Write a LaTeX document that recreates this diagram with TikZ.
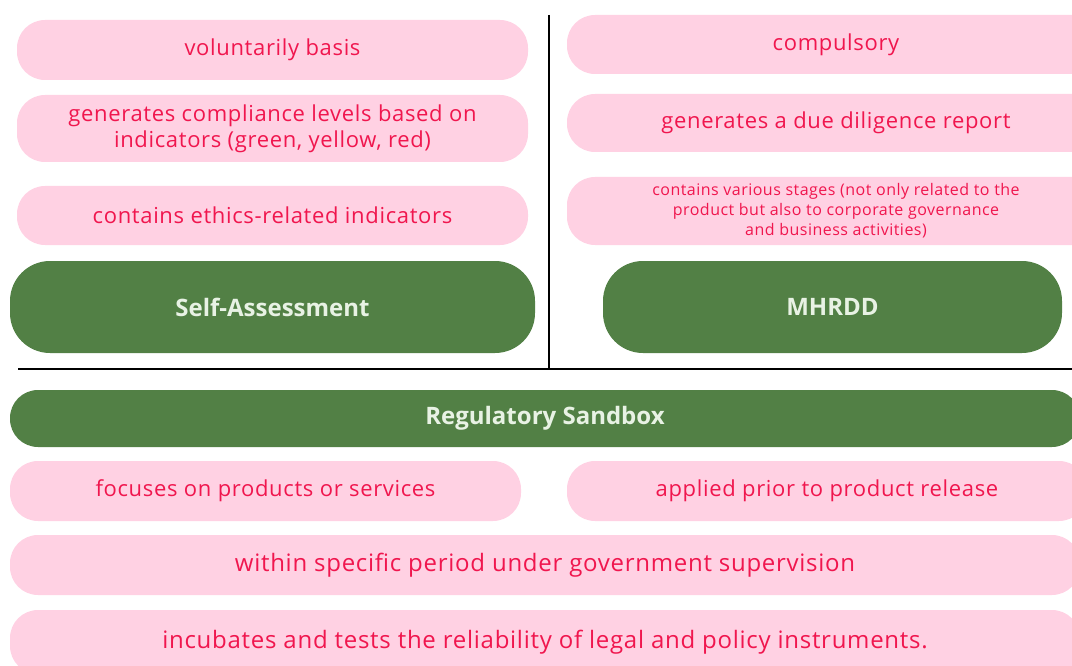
\documentclass[tikz,border=0pt]{standalone}
\usepackage{fontspec}
\setmainfont{Open Sans}
\newfontfamily\pillfont{Open Sans}[LetterSpace=3]
\usetikzlibrary{positioning}
\definecolor{pillpink}{RGB}{255,209,227}
\definecolor{pilltext}{RGB}{240,22,78}
\definecolor{headgreen}{RGB}{82,128,69}
\definecolor{headtext}{RGB}{232,242,228}

\begin{document}
\begin{tikzpicture}[x=1pt,y=-1pt,
pill/.style={rectangle,rounded corners=28pt,fill=pillpink,text=pilltext,
  align=center,inner sep=0pt,font=\pillfont\fontsize{22}{26}\selectfont},
head/.style={rectangle,rounded corners=40pt,fill=headgreen,text=headtext,
  inner sep=0pt,font=\fontsize{24}{28}\selectfont\bfseries}]
\useasboundingbox (0,0) rectangle (1072,666);
\clip (0,0) rectangle (1072,666);
% left column
\node[pill,minimum width=511pt,minimum height=60pt] (vol) at (272.5,50) {voluntarily basis};
\node[pill,minimum width=511pt,minimum height=67pt] (lvl) at (272.5,128.5) {generates compliance levels based on\\indicators (green, yellow, red)};
\node[pill,minimum width=511pt,minimum height=59pt] (eth) at (272.5,215.5) {contains ethics-related indicators};
\node[head,minimum width=525pt,minimum height=92pt] (SA) at (272.5,307) {Self-Assessment};
% right column
\node[pill,minimum width=538pt,minimum height=59pt] (comp) at (836,44.5) {compulsory};
\node[pill,minimum width=538pt,minimum height=58pt] (rep) at (836,123) {generates a due diligence report};
\node[pill,minimum width=538pt,minimum height=68pt,font=\pillfont\fontsize{16}{20}\selectfont] (stg) at (836,211) {contains various stages (not only related to the\\product but also to corporate governance\\and business activities)};
\node[head,minimum width=459pt,minimum height=92pt] (MH) at (832.5,307) {MHRDD};
% dividers
\coordinate (vtop) at (549,15);
\coordinate (vbot) at (549,369);
\coordinate (hl) at (18,369);
\coordinate (hr) at (1072,369);
\draw[line width=2.5pt] (vtop)--(vbot);
\draw[line width=2.5pt] (hl)--(hr);
% sandbox
\node[head,rounded corners=28pt,minimum width=1070pt,minimum height=57pt] (RS) at (545,418.5) {Regulatory Sandbox};
\node[pill,minimum width=511pt,minimum height=60pt] (prod) at (265.5,491) {focuses on products or services};
\node[pill,minimum width=520pt,minimum height=60pt] (rel) at (827,491) {applied prior to product release};
\node[pill,minimum width=1070pt,minimum height=60pt,font=\pillfont\fontsize{24}{28}\selectfont] (gov) at (545,565) {within specific period under government supervision};
\node[pill,minimum width=1070pt,minimum height=64pt,font=\pillfont\fontsize{24}{28}\selectfont] (inc) at (545,642) {incubates and tests the reliability of legal and policy instruments.};
\end{tikzpicture}
\end{document}
